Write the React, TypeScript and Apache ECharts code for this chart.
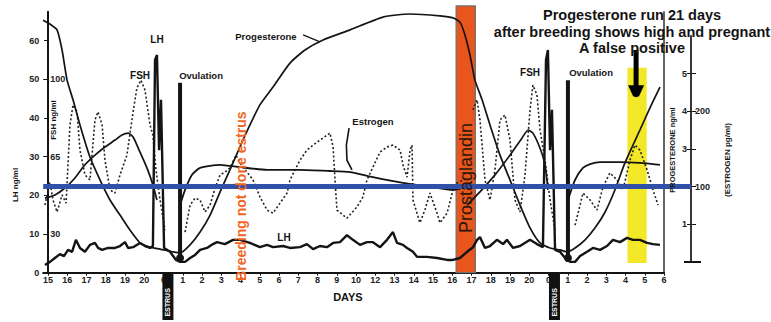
import React, { useEffect, useRef } from "react";
import * as echarts from "echarts";

// ---------- axis ticks / labels ----------
const DAY_LABELS = ["15","16","17","18","19","20","0","1","2","3","4","5","6","7","8","9","10","12","13","14","15","16","17","18","19","20","0","1","2","3","4","5","6"];
const DAY_POSITIONS = DAY_LABELS.map((_, i) => i);
const LH_TICKS = [0, 10, 20, 30, 40, 50, 60];
const FSH_TICK_POSITIONS = [10, 30, 50];
const FSH_TICK_LABELS = ["30", "65", "100"];
const PROG_TICKS = [1, 2, 3, 4, 5];
const PROG_LABELS = [1, 3, 4, 5];
const ESTROGEN_TICKS = [50, 100, 150, 200, 250];
const ESTROGEN_LABELS = [100, 200];

// ---------- series (x = day position, y = LH ng/ml scale) ----------
const progesterone = [
  [-0.26, 65.3], [0.10, 64.3], [0.47, 62.8], [0.73, 57.6], [0.99, 49.8], [1.30, 44.7], [1.66, 38.2],
  [2.18, 29.9], [2.70, 24.0], [3.22, 18.8], [3.74, 14.9], [4.26, 11.0], [4.78, 7.7], [5.30, 6.6],
  [5.82, 6.1], [6.49, 5.4], [6.86, 5.1], [7.38, 7.2], [7.90, 10.5], [8.42, 14.9], [8.94, 20.9],
  [9.45, 26.6], [9.97, 32.5], [10.49, 38.2], [11.01, 43.4], [11.69, 48.0], [12.57, 54.2], [13.35, 57.6],
  [14.29, 60.2], [15.69, 62.8], [17.40, 66.1], [18.81, 66.9], [20.36, 66.4], [21.04, 65.9],
  [21.40, 64.8], [21.66, 61.5], [21.92, 56.3], [22.18, 49.8], [22.55, 44.7], [22.96, 38.2],
  [23.48, 30.4], [24.00, 24.0], [24.52, 17.5], [25.04, 11.6], [25.56, 7.7], [26.08, 6.4],
  [26.60, 5.9], [26.96, 5.4], [27.38, 6.4], [27.90, 8.5], [28.42, 11.6], [28.94, 15.7],
  [29.45, 21.4], [29.97, 28.4], [30.75, 36.9], [31.27, 42.6], [31.79, 48.0],
];
const preOvulatory1 = [
  [-0.16, 19.3], [0.36, 20.1], [0.88, 21.9], [1.40, 24.5], [1.92, 27.9], [2.44, 30.4], [2.96, 32.5],
  [3.48, 34.3], [3.84, 35.6], [4.16, 36.1], [4.42, 35.1], [4.78, 31.2], [5.14, 27.1], [5.45, 22.7], [5.66, 18.8],
];
const preOvulatory2 = [
  [21.77, 17.5], [22.44, 20.9], [23.22, 25.3], [24.00, 30.4], [24.62, 34.8], [24.94, 36.9],
  [25.19, 36.1], [25.56, 32.2], [25.82, 27.9], [25.97, 21.4],
];
const plateau1 = [
  [6.86, 17.5], [7.12, 21.4], [7.48, 25.3], [7.90, 27.1], [8.94, 27.9], [9.97, 27.3], [11.38, 26.6],
  [13.09, 26.6], [14.65, 26.3], [15.69, 26.0], [16.88, 24.7], [18.44, 23.2], [19.84, 22.2],
  [21.04, 21.4], [21.51, 21.9],
];
const plateau2 = [
  [27.01, 18.8], [27.38, 24.0], [27.79, 27.1], [28.16, 28.1], [28.68, 28.6], [29.71, 28.6],
  [30.75, 28.4], [31.79, 27.9],
];
const lh = [
  [-0.16, 2.0], [0.10, 2.8], [0.36, 3.8], [0.62, 4.8], [0.83, 4.3], [1.04, 5.9], [1.25, 5.4],
  [1.45, 8.5], [1.66, 6.4], [1.92, 5.4], [2.18, 7.2], [2.44, 7.7], [2.60, 6.4], [2.81, 5.9],
  [3.12, 6.4], [3.48, 6.4], [3.74, 6.9], [4.00, 7.9], [4.16, 6.4], [4.42, 6.6], [4.78, 7.7],
  [5.04, 6.9], [5.30, 6.4], [5.45, 6.9], [5.56, 55.0], [5.66, 56.3], [5.77, 31.7], [5.87, 44.7],
  [6.03, 6.4], [6.34, 5.4], [6.65, 3.3], [6.86, 2.8], [7.12, 2.8], [7.38, 3.8], [7.64, 4.6],
  [7.90, 5.9], [8.26, 6.4], [8.57, 7.4], [8.78, 7.9], [9.19, 7.4], [9.61, 8.5], [9.97, 8.5],
  [10.49, 7.7], [11.01, 6.6], [11.38, 7.2], [11.69, 6.6], [12.21, 6.9], [12.57, 6.4], [13.09, 6.6],
  [13.45, 7.4], [13.77, 6.1], [14.13, 6.9], [14.49, 6.6], [14.81, 7.7], [15.17, 7.9], [15.53, 9.7],
  [15.84, 8.5], [16.21, 7.2], [16.57, 7.9], [16.88, 7.9], [17.25, 6.6], [17.61, 8.5], [17.92, 10.5],
  [18.13, 7.7], [18.44, 7.2], [18.65, 6.4], [18.96, 5.4], [19.17, 4.1], [19.69, 4.1], [20.21, 3.8],
  [20.73, 3.3], [21.04, 3.3], [21.40, 3.8], [21.77, 5.4], [22.08, 6.6], [22.29, 8.5], [22.44, 9.2],
  [22.70, 6.4], [22.96, 6.9], [23.32, 8.5], [23.64, 7.4], [23.84, 8.5], [24.16, 6.4], [24.52, 6.9],
  [25.04, 8.5], [25.40, 7.4], [25.71, 6.6], [25.87, 55.0], [25.97, 57.6], [26.08, 31.7], [26.18, 42.1],
  [26.34, 5.9], [26.60, 5.4], [26.86, 3.8], [27.12, 2.8], [27.38, 2.8], [27.64, 4.3], [28.00, 5.4],
  [28.31, 6.4], [28.68, 5.9], [29.04, 6.9], [29.35, 8.5], [29.71, 7.9], [30.08, 9.0], [30.39, 8.5],
  [30.75, 8.5], [31.12, 7.7], [31.43, 7.4], [31.79, 7.2],
];
const estrogen1 = [
  [-0.16, 17.5], [0.10, 23.4], [0.26, 18.8], [0.47, 15.7], [0.73, 20.1], [0.94, 18.0], [1.14, 38.2],
  [1.30, 43.4], [1.51, 41.6], [1.66, 31.7], [1.92, 25.3], [2.18, 24.0], [2.44, 39.5], [2.60, 41.6],
  [2.81, 38.2], [2.96, 29.1], [3.22, 21.4], [3.48, 20.6], [3.74, 25.3], [4.10, 30.4], [4.42, 41.6],
  [4.62, 47.8], [4.83, 49.8], [5.04, 47.2], [5.30, 38.2], [5.45, 35.6], [5.61, 26.6], [5.82, 18.8], [6.08, 11.0],
];
const estrogen2 = [
  [7.12, 10.5], [7.38, 17.5], [7.64, 19.3], [7.90, 18.8], [8.16, 15.7], [8.42, 17.5], [8.68, 21.9],
  [8.94, 25.3], [9.19, 26.0], [9.45, 27.1], [9.77, 30.4], [9.97, 28.4], [10.34, 26.0], [10.65, 24.0],
  [11.01, 19.6], [11.38, 16.2], [11.69, 15.4], [12.05, 18.0], [12.42, 20.6], [12.57, 24.0], [12.83, 26.6],
  [13.09, 29.1], [13.45, 31.7], [13.77, 33.0], [14.13, 34.3], [14.65, 36.1], [14.81, 32.5], [14.91, 24.0],
  [15.01, 16.2], [15.53, 14.1], [16.05, 17.0], [16.36, 19.6], [16.57, 24.0], [16.88, 27.3], [17.25, 31.2],
  [17.61, 32.5], [17.92, 33.0], [18.29, 31.7], [18.44, 27.9], [18.65, 24.7], [18.81, 31.7], [18.91, 33.0],
  [18.96, 18.8], [19.32, 12.9], [19.58, 16.2], [19.84, 20.6], [20.21, 15.4], [20.36, 12.9], [20.73, 15.4],
  [21.04, 21.4], [21.25, 23.2], [21.56, 24.0],
];
const estrogen3 = [
  [22.08, 42.1], [22.29, 44.7], [22.44, 39.5], [22.70, 24.0], [22.96, 18.8], [23.22, 26.6], [23.48, 39.5],
  [23.74, 40.8], [24.00, 34.3], [24.26, 18.8], [24.52, 15.7], [24.78, 25.3], [25.04, 42.1], [25.19, 48.5],
  [25.40, 46.0], [25.56, 36.9], [25.82, 29.1], [26.08, 18.8], [26.34, 11.0],
];
const estrogen4 = [
  [27.38, 12.3], [27.64, 17.5], [27.79, 20.6], [28.16, 18.8], [28.52, 16.2], [28.83, 22.2], [29.19, 25.8],
  [29.56, 24.0], [29.87, 21.4], [30.23, 29.1], [30.49, 33.0], [30.75, 31.7], [31.12, 26.6], [31.43, 21.4], [31.69, 17.5],
];
const ovulation1 = [[6.86, 2.8], [6.86, 49.1]];
const ovulation2 = [[27.01, 2.8], [27.01, 49.8]];

// ---------- annotations (data units) ----------
const PROSTAGLANDIN_DAYS = [21.2, 22.2];
const PROSTAGLANDIN_LABEL_AT = [21.72, 24.5];
const BREEDING_LABEL_AT = [10.03, 19.8];
const FALSE_POSITIVE_DAYS = [30.1, 31.1];
const FALSE_POSITIVE_LEVELS = [2.5, 53];
const ESTROGEN_THRESHOLD = 100;
const ESTRUS_DAYS = [6.23, 26.31];
const NOTE_LINES = ["Progesterone run 21 days", "after breeding shows high and pregnant", "A false positive"];
const CURVE_LABELS: [string, number, number][] = [
  ["LH", 5.66, 60.2], ["FSH", 4.78, 51.1], ["Ovulation", 7.95, 51.1], ["Progesterone", 11.32, 61.2],
  ["Estrogen", 16.88, 39.0], ["LH", 12.26, 9.2], ["FSH", 25.04, 51.9], ["Ovulation", 28.21, 51.9],
];

const FONT = "'Liberation Sans', Arial, sans-serif";
const INK = "#141414";

export default function App() {
  const ref = useRef<HTMLDivElement>(null);
  useEffect(() => {
    const chart = echarts.init(ref.current!, null, { renderer: "svg" });
    const line = (data: number[][], style: any = {}, extra: any = {}) => ({
      type: "line", data, symbol: "none", clip: false, silent: true, z: 3,
      xAxisIndex: 0, yAxisIndex: 0,
      lineStyle: { color: INK, width: 1.6, ...style }, ...extra,
    });
    const labelStyle = { fontFamily: FONT, fontSize: 9, fontWeight: "bold", color: "#222" };
    chart.setOption({
      animation: false,
      backgroundColor: "#ffffff",
      grid: [
        { left: 43.19, right: 107, top: 11.68, bottom: 49.3 },
        { left: 691, right: 79, top: 35.8, bottom: 60 },
      ],
      xAxis: [
        {
          type: "value", gridIndex: 0, min: -0.25, max: 32,
          axisLine: { lineStyle: { color: INK, width: 2 } },
          axisTick: { customValues: DAY_POSITIONS, length: 3, lineStyle: { color: INK } },
          axisLabel: { customValues: DAY_POSITIONS, margin: 3, formatter: (v: number) => DAY_LABELS[Math.round(v)] ?? "", ...labelStyle },
          splitLine: { show: false },
        },
        { type: "value", gridIndex: 1, min: 0, max: 1, show: false },
      ],
      yAxis: [
        {
          type: "value", gridIndex: 0, min: 0, max: 67.5, position: "left",
          axisLine: { show: true, lineStyle: { color: INK, width: 2 } },
          axisTick: { show: true, customValues: LH_TICKS, length: 4, lineStyle: { color: INK } },
          axisLabel: { customValues: LH_TICKS, margin: 4, ...labelStyle },
          splitLine: { show: false },
        },
        {
          type: "value", gridIndex: 0, min: 0, max: 67.5, position: "left",
          axisLine: { show: false },
          axisTick: { show: true, inside: true, customValues: FSH_TICK_POSITIONS, length: 5, lineStyle: { color: INK } },
          axisLabel: {
            inside: true, customValues: FSH_TICK_POSITIONS, margin: 7,
            formatter: (v: number) => FSH_TICK_LABELS[FSH_TICK_POSITIONS.indexOf(Math.round(v))] ?? "", ...labelStyle,
          },
          splitLine: { show: false },
        },
        {
          type: "value", gridIndex: 0, min: 0, max: 67.5, position: "right",
          axisLine: { show: true, lineStyle: { color: "#333", width: 1.5 } },
          axisTick: { show: false }, axisLabel: { show: false }, splitLine: { show: false },
        },
        {
          type: "value", gridIndex: 1, min: 0, max: 6, position: "left",
          axisLine: { show: true, lineStyle: { color: "#222", width: 1.8 } },
          axisTick: { show: true, customValues: PROG_TICKS, length: 4, lineStyle: { color: INK } },
          axisLabel: { customValues: PROG_LABELS, margin: 4, ...labelStyle },
          splitLine: { show: false },
        },
        {
          type: "value", gridIndex: 1, min: 0, max: 300, position: "right",
          axisLine: { show: false },
          axisTick: { show: true, customValues: ESTROGEN_TICKS, length: 4, lineStyle: { color: INK } },
          axisLabel: { customValues: ESTROGEN_LABELS, margin: 3, ...labelStyle },
          splitLine: { show: false },
        },
      ],
      series: [
        line(estrogen1, { type: [2, 2.2], width: 1.6, color: "#222" }),
        line(estrogen2, { type: [2, 2.2], width: 1.6, color: "#222" }),
        line(estrogen3, { type: [2, 2.2], width: 1.6, color: "#222" }),
        line(estrogen4, { type: [2, 2.2], width: 1.6, color: "#222" }),
        line(progesterone, { width: 1.7 }, { smooth: 0.2 }),
        line(preOvulatory1, { width: 1.7 }, { smooth: 0.2 }),
        line(preOvulatory2, { width: 1.7 }, { smooth: 0.2 }),
        line(plateau1, { width: 1.8 }, { smooth: 0.2 }),
        line(plateau2, { width: 1.8 }, { smooth: 0.2 }),
        line(lh, { width: 2.4 }),
        line(ovulation1, { width: 4 }),
        line(ovulation2, { width: 4 }),
      ],
    });

    const px = (x: number) => chart.convertToPixel({ xAxisIndex: 0 }, x) as number;
    const py = (y: number) => chart.convertToPixel({ yAxisIndex: 0 }, y) as number;
    const rightAxisX = chart.convertToPixel({ xAxisIndex: 1 }, 0) as number;
    const rightAxisZero = chart.convertToPixel({ yAxisIndex: 3 }, 0) as number;
    const thresholdY = chart.convertToPixel({ yAxisIndex: 4 }, ESTROGEN_THRESHOLD) as number;
    const axisY = py(0);

    const text = (t: string, x: number, y: number, style: any = {}, rotation = 0) => ({
      type: "text", x, y, rotation, z: 20,
      style: { text: t, fill: INK, fontFamily: FONT, fontSize: 10, fontWeight: "bold", align: "center", verticalAlign: "middle", ...style },
    });

    const graphics: any[] = [];
    graphics.push({
      type: "rect", z: 1,
      shape: { x: px(PROSTAGLANDIN_DAYS[0]), y: py(69), width: px(PROSTAGLANDIN_DAYS[1]) - px(PROSTAGLANDIN_DAYS[0]), height: axisY - py(69) },
      style: { fill: "#e8561e", stroke: "#6f6f6f", lineWidth: 1.2 },
    });
    graphics.push({
      type: "rect", z: 1,
      shape: { x: px(FALSE_POSITIVE_DAYS[0]), y: py(FALSE_POSITIVE_LEVELS[1]), width: px(FALSE_POSITIVE_DAYS[1]) - px(FALSE_POSITIVE_DAYS[0]), height: py(FALSE_POSITIVE_LEVELS[0]) - py(FALSE_POSITIVE_LEVELS[1]) },
      style: { fill: "#f3e827" },
    });
    graphics.push({
      type: "line", z: 15,
      shape: { x1: px(-0.25), y1: thresholdY, x2: rightAxisX, y2: thresholdY },
      style: { stroke: "#3150a8", lineWidth: 5 },
    });
    graphics.push({ type: "line", z: 5, shape: { x1: rightAxisX - 7, y1: rightAxisZero, x2: rightAxisX + 10, y2: rightAxisZero }, style: { stroke: INK, lineWidth: 2 } });
    graphics.push(text("Prostaglandin", px(PROSTAGLANDIN_LABEL_AT[0]), py(PROSTAGLANDIN_LABEL_AT[1]), { fontSize: 18, fontWeight: "normal", fill: "#2b1608" }, Math.PI / 2));
    graphics.push(text("Breeding not done estrus", px(BREEDING_LABEL_AT[0]), py(BREEDING_LABEL_AT[1]), { fontSize: 14, fill: "#f26522" }, Math.PI / 2));
    NOTE_LINES.forEach((t, i) => graphics.push(text(t, px(30.34), 15 + i * 16.5, { fontSize: 14.5 })));
    CURVE_LABELS.forEach(([t, x, y]) => graphics.push(text(t, px(x), py(y), { fontSize: t.length > 3 ? 9.5 : 10 })));
    graphics.push(text("DAYS", px(15.58), py(-6.3), { fontSize: 11 }));
    const ax = px(30.55);
    const tipY = py(45.4);
    graphics.push({ type: "line", z: 18, shape: { x1: ax, y1: py(57.6), x2: ax, y2: tipY - 8 }, style: { stroke: "#000", lineWidth: 5 } });
    graphics.push({ type: "polygon", z: 18, shape: { points: [[ax - 8, tipY - 12], [ax + 8, tipY - 12], [ax + 3, tipY - 1], [ax, tipY], [ax - 3, tipY - 1]] }, style: { fill: "#000" } });
    graphics.push({ type: "polyline", z: 18, shape: { points: [[px(13.25), py(61.5)], [px(14.13), py(59.7)]] }, style: { stroke: INK, lineWidth: 1.2 } });
    graphics.push({ type: "polyline", z: 18, shape: { points: [[px(15.64), py(37.4)], [px(15.5), py(33)], [px(15.53), py(29.1)], [px(15.79), py(26.6)]] }, style: { stroke: INK, lineWidth: 1.6 } });
    graphics.push({ type: "circle", z: 18, shape: { cx: px(6.86), cy: py(3.8), r: 4 }, style: { fill: INK } });
    graphics.push({ type: "circle", z: 18, shape: { cx: px(27.01), cy: py(3.8), r: 4 }, style: { fill: INK } });
    ESTRUS_DAYS.forEach((d) => {
      const cx = px(d);
      graphics.push({ type: "rect", z: 18, shape: { x: cx - 5.5, y: axisY, width: 11, height: 320 - axisY }, style: { fill: "#111" } });
      graphics.push(text("ESTRUS", cx, (axisY + 320) / 2 + 6, { fontSize: 7, fill: "#ffffff" }, Math.PI / 2));
    });
    graphics.push(text("FSH ng/ml", 53, 120, { fontSize: 8 }, Math.PI / 2));
    graphics.push(text("LH ng/ml", 15, 185, { fontSize: 8 }, Math.PI / 2));
    graphics.push(text("PROGESTERONE ng/ml", rightAxisX - 19, 150, { fontSize: 7.5 }, Math.PI / 2));
    graphics.push(text("(ESTROGEN pg/ml)", rightAxisX + 36, 160, { fontSize: 8 }, Math.PI / 2));

    chart.setOption({ graphic: graphics });
    return () => chart.dispose();
  }, []);
  return <div ref={ref} style={{ position: "fixed", left: 0, top: 0, width: 771, height: 322, background: "#fff" }} />;
}
